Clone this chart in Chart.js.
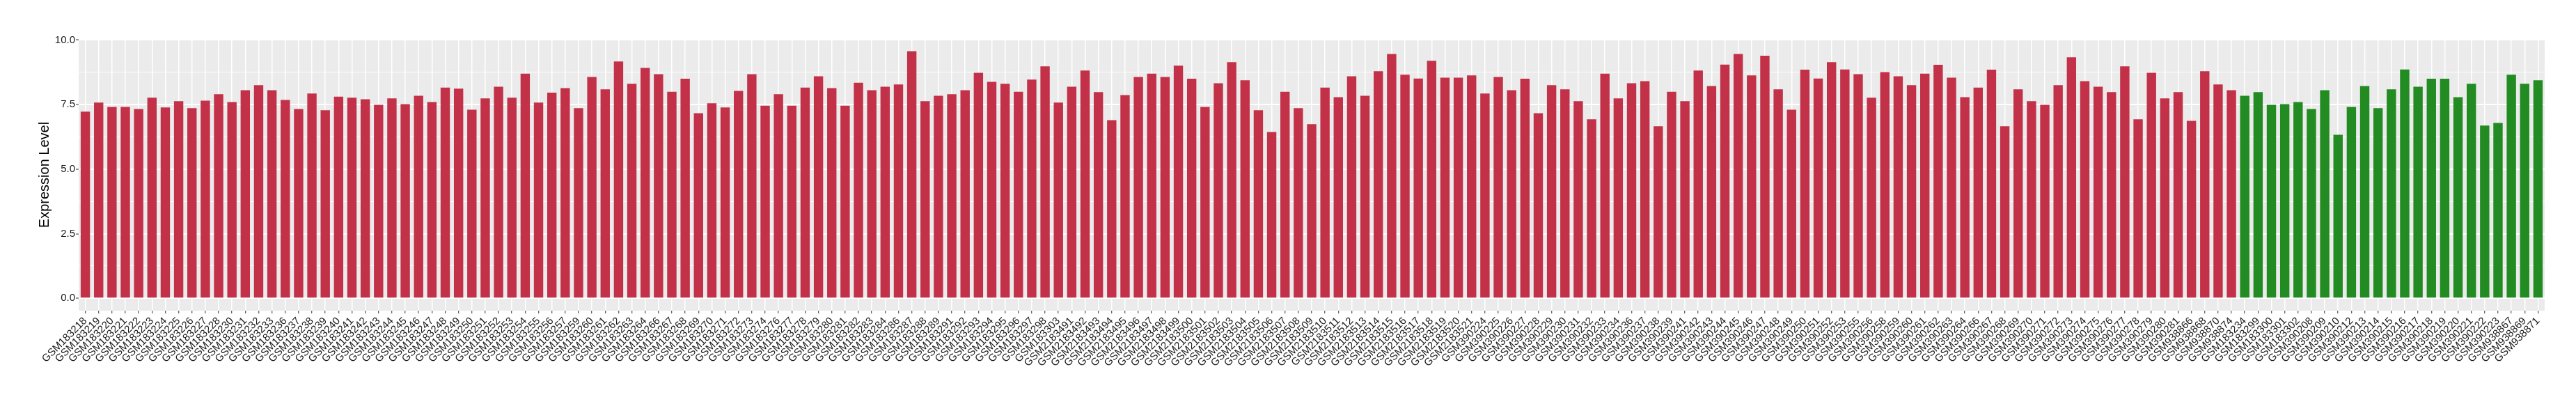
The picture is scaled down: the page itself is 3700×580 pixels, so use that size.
<!DOCTYPE html>
<html>
<head>
<meta charset="utf-8">
<script src="https://cdn.jsdelivr.net/npm/chart.js@4/dist/chart.umd.min.js"></script>
<style>
  body { margin: 0; background: #fff; }
</style>
</head>
<body>
<canvas id="myChart" width="3700" height="580"></canvas>
<script>
// red group
var redSamples = ['GSM183218','GSM183219','GSM183220','GSM183221','GSM183222','GSM183223','GSM183224','GSM183225','GSM183226','GSM183227',
    'GSM183228','GSM183230','GSM183231','GSM183232','GSM183233','GSM183236','GSM183237','GSM183238','GSM183239','GSM183240',
    'GSM183241','GSM183242','GSM183243','GSM183244','GSM183245','GSM183246','GSM183247','GSM183248','GSM183249','GSM183250',
    'GSM183251','GSM183252','GSM183253','GSM183254','GSM183255','GSM183256','GSM183257','GSM183259','GSM183260','GSM183261',
    'GSM183262','GSM183263','GSM183264','GSM183266','GSM183267','GSM183268','GSM183269','GSM183270','GSM183271','GSM183272',
    'GSM183273','GSM183274','GSM183276','GSM183277','GSM183278','GSM183279','GSM183280','GSM183281','GSM183282','GSM183283',
    'GSM183284','GSM183286','GSM183287','GSM183288','GSM183289','GSM183291','GSM183292','GSM183293','GSM183294','GSM183295',
    'GSM183296','GSM183297','GSM183298','GSM183303','GSM2183491','GSM2183492','GSM2183493','GSM2183494','GSM2183495','GSM2183496',
    'GSM2183497','GSM2183498','GSM2183499','GSM2183500','GSM2183501','GSM2183502','GSM2183503','GSM2183504','GSM2183505','GSM2183506',
    'GSM2183507','GSM2183508','GSM2183509','GSM2183510','GSM2183511','GSM2183512','GSM2183513','GSM2183514','GSM2183515','GSM2183516',
    'GSM2183517','GSM2183518','GSM2183519','GSM2183520','GSM2183521','GSM390224','GSM390225','GSM390226','GSM390227','GSM390228',
    'GSM390229','GSM390230','GSM390231','GSM390232','GSM390233','GSM390234','GSM390236','GSM390237','GSM390238','GSM390239',
    'GSM390241','GSM390242','GSM390243','GSM390244','GSM390245','GSM390246','GSM390247','GSM390248','GSM390249','GSM390250',
    'GSM390251','GSM390252','GSM390253','GSM390255','GSM390256','GSM390258','GSM390259','GSM390260','GSM390261','GSM390262',
    'GSM390263','GSM390264','GSM390266','GSM390267','GSM390268','GSM390269','GSM390270','GSM390271','GSM390272','GSM390273',
    'GSM390274','GSM390275','GSM390276','GSM390277','GSM390278','GSM390279','GSM390280','GSM390281','GSM938866','GSM938868',
    'GSM938870','GSM938874']
var redValues = [7.23,7.58,7.41,7.41,7.33,7.77,7.39,7.63,7.36,7.65,
    7.90,7.60,8.06,8.25,8.06,7.68,7.33,7.93,7.28,7.81,
    7.77,7.71,7.49,7.74,7.52,7.84,7.60,8.16,8.12,7.30,
    7.74,8.19,7.77,8.70,7.58,7.96,8.14,7.36,8.57,8.09,
    9.17,8.31,8.92,8.68,8.00,8.50,7.17,7.55,7.39,8.03,
    8.68,7.46,7.90,7.46,8.16,8.60,8.14,7.46,8.35,8.06,
    8.19,8.28,9.57,7.63,7.84,7.90,8.06,8.73,8.38,8.31,
    8.00,8.47,8.98,7.58,8.19,8.82,7.98,6.90,7.87,8.57,
    8.70,8.57,9.01,8.50,7.41,8.33,9.14,8.44,7.28,6.44,
    8.00,7.36,6.74,8.16,7.79,8.60,7.84,8.79,9.46,8.66,
    8.51,9.20,8.54,8.54,8.63,7.93,8.57,8.06,8.50,7.17,
    8.25,8.09,7.63,6.93,8.70,7.74,8.33,8.41,6.66,8.00,
    7.63,8.82,8.22,9.05,9.46,8.63,9.39,8.09,7.30,8.85,
    8.51,9.14,8.86,8.68,7.77,8.76,8.60,8.25,8.70,9.04,
    8.54,7.79,8.16,8.85,6.66,8.09,7.63,7.49,8.25,9.33,
    8.41,8.19,7.98,8.98,6.93,8.73,7.74,7.98,6.87,8.79,
    8.28,8.06]

// green group
var greenSamples = ['GSM183234','GSM183299','GSM183300','GSM183301','GSM183302','GSM390208','GSM390209','GSM390210','GSM390212','GSM390213',
    'GSM390214','GSM390215','GSM390216','GSM390217','GSM390218','GSM390219','GSM390220','GSM390221','GSM390222','GSM390223',
    'GSM938867','GSM938869','GSM938871']
var greenValues = [7.84,7.98,7.49,7.52,7.60,7.33,8.06,6.33,7.41,8.22,
    7.36,8.09,8.86,8.19,8.50,8.50,7.79,8.31,6.69,6.79,
    8.66,8.31,8.44]

var yTicks = [0, 1.25, 2.5, 3.75, 5, 6.25, 7.5, 8.75, 10]

var labels = redSamples.concat(greenSamples)
var values = redValues.concat(greenValues)
var colors = redSamples.map(function() { return '#C33149' })
    .concat(greenSamples.map(function() { return '#228B22' }))

function isMajor(v) {
    return Math.abs(v / 2.5 - Math.round(v / 2.5)) < 1e-6
}

var panelBg = {
    id: 'panelBg',
    beforeDraw: function(chart) {
        var c = chart.ctx, a = chart.chartArea
        c.save()
        c.fillStyle = '#fff'
        c.fillRect(0, 0, chart.width, chart.height)
        c.fillStyle = '#EBEBEB'
        c.fillRect(a.left, a.top, a.right - a.left, a.bottom - a.top)
        c.restore()
    }
}

var ctx = document.getElementById('myChart')
var myChart = new Chart(ctx, {
    type: 'bar',
    data: {
        labels: labels,
        datasets: [{
            data: values,
            backgroundColor: colors,
            borderWidth: 0,
            barPercentage: 0.7,
            categoryPercentage: 1
        }]
    },
    options: {
        responsive: false,
        animation: false,
        devicePixelRatio: 1,
        layout: { padding: { left: 52, top: 56, right: 45, bottom: 0 } },
        plugins: {
            legend: { display: false },
            tooltip: { enabled: false }
        },
        scales: {
            x: {
                afterFit: function(s) { s.height = 134 },
                border: { display: false },
                grid: {
                    offset: false,
                    color: '#FFFFFF',
                    lineWidth: 1.5,
                    tickColor: '#333333',
                    tickLength: 4,
                    tickWidth: 1
                },
                ticks: {
                    autoSkip: false,
                    maxRotation: 45,
                    minRotation: 45,
                    padding: 2,
                    color: '#1a1a1a',
                    font: { family: 'Liberation Sans, Arial, sans-serif', size: 15 }
                }
            },
            y: {
                min: -0.48,
                max: 10.04,
                afterFit: function(s) { s.width = 61 },
                afterBuildTicks: function(s) {
                    s.ticks = yTicks.map(function(v) { return { value: v } })
                },
                border: { display: false },
                grid: {
                    color: '#FFFFFF',
                    lineWidth: function(c) { return isMajor(c.tick.value) ? 2 : 1 },
                    tickColor: function(c) { return isMajor(c.tick.value) ? '#333333' : 'rgba(0,0,0,0)' },
                    tickLength: 4,
                    tickWidth: 1
                },
                ticks: {
                    padding: 1,
                    color: '#1a1a1a',
                    font: { family: 'Liberation Sans, Arial, sans-serif', size: 15 },
                    callback: function(v) { return isMajor(v) ? v.toFixed(1) : '' }
                },
                title: {
                    display: true,
                    text: 'Expression Level',
                    color: '#000',
                    padding: { top: 0, bottom: 0 },
                    font: { family: 'Liberation Sans, Arial, sans-serif', size: 20 }
                }
            }
        }
    },
    plugins: [panelBg]
})
</script>
</body>
</html>
